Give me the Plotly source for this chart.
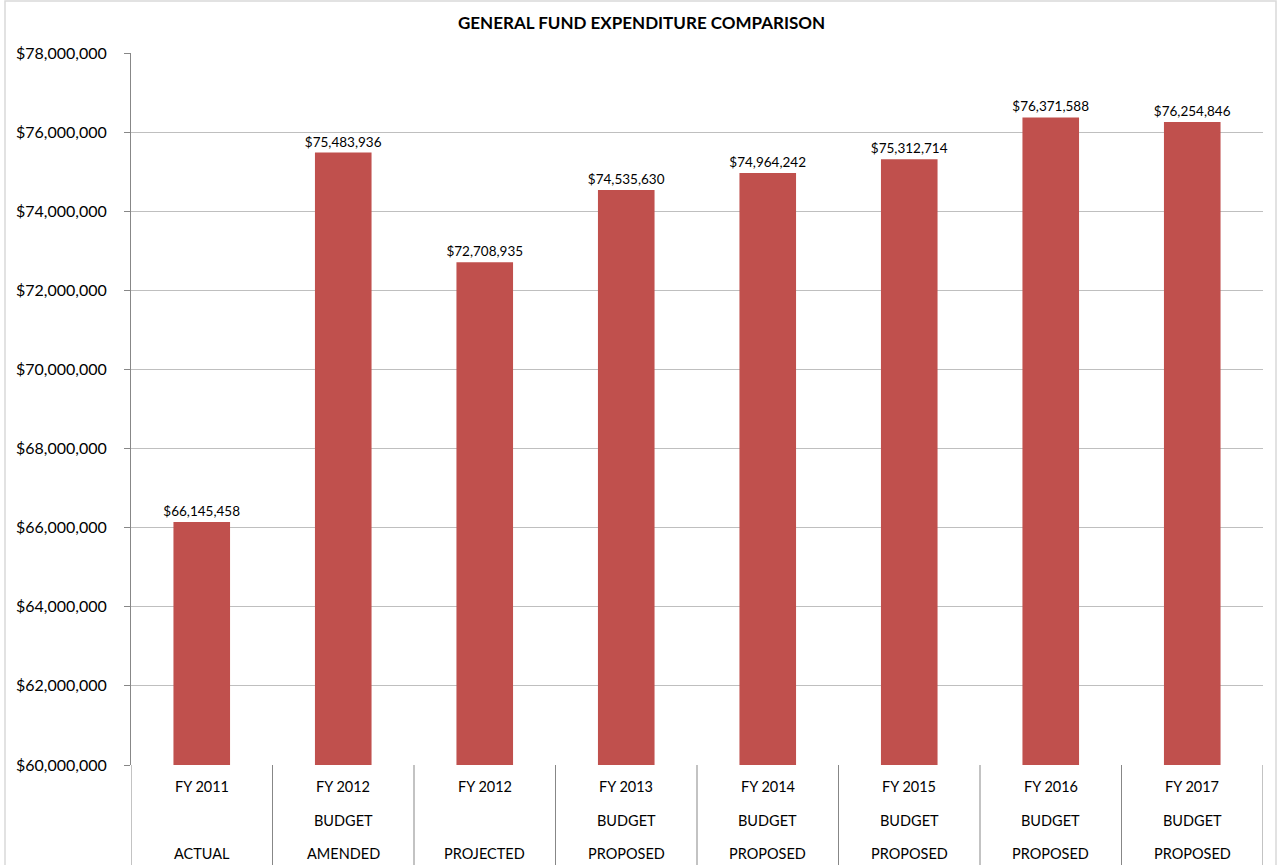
import plotly.graph_objects as go

# Fiscal-year labels (three rows under each bar)
fiscal_years = ["FY 2011", "FY 2012", "FY 2012", "FY 2013", "FY 2014", "FY 2015", "FY 2016", "FY 2017"]
budget_row = ["", "BUDGET", "", "BUDGET", "BUDGET", "BUDGET", "BUDGET", "BUDGET"]
status_row = ["ACTUAL", "AMENDED", "PROJECTED", "PROPOSED", "PROPOSED", "PROPOSED", "PROPOSED", "PROPOSED"]

# General fund expenditures in dollars
expenditures = [66145458, 75483936, 72708935, 74535630, 74964242, 75312714, 76371588, 76254846]

y_ticks = list(range(60000000, 78000001, 2000000))
y_tick_text = ["${:,}".format(v) for v in y_ticks]

FONT = "Lato, 'Open Sans', sans-serif"
BAR_COLOR = "#C0504D"

W, H = 1279, 865
M_L, M_R, M_T, M_B = 131, 16, 53, 100
plot_w = W - M_L - M_R
plot_h = H - M_T - M_B

n = len(expenditures)
xs = list(range(n))

fig = go.Figure()
fig.add_trace(go.Bar(
    x=xs,
    y=expenditures,
    width=0.4,
    marker=dict(color=BAR_COLOR, line=dict(width=0)),
    text=["${:,}".format(v) for v in expenditures],
    textposition="outside",
    constraintext="none",
    textfont=dict(family=FONT, size=13.5, color="#000000"),
    cliponaxis=False,
    hoverinfo="skip",
))

annotations = [dict(
    text="<b>GENERAL FUND EXPENDITURE COMPARISON</b>",
    x=(W / 2 + 2 - M_L) / plot_w, xref="paper",
    y=(H - 23 - M_B) / plot_h, yref="paper",
    xanchor="center", yanchor="middle", showarrow=False,
    font=dict(family=FONT, size=17, color="#000000"),
)]

row_px = [786, 820, 853]
rows = [fiscal_years, budget_row, status_row]
for labels, py in zip(rows, row_px):
    yp = (H - M_B - py) / plot_h
    for i, lab in enumerate(labels):
        if lab:
            annotations.append(dict(
                text=lab, x=i, xref="x", y=yp, yref="paper",
                xanchor="center", yanchor="middle", showarrow=False,
                font=dict(family=FONT, size=14.5, color="#000000"),
            ))

shapes = []
# category separators below the axis
bottom = -(M_B + 5) / plot_h
for k in range(n + 1):
    shapes.append(dict(
        type="line", xref="x", yref="paper",
        x0=k - 0.5, x1=k - 0.5, y0=0, y1=bottom,
        line=dict(color="#878787", width=1),
    ))
# outer chart border
shapes.append(dict(
    type="rect", xref="paper", yref="paper",
    x0=(5 - M_L) / plot_w, x1=(1276 - M_L) / plot_w,
    y0=bottom - 0.05, y1=(H - 1 - M_B) / plot_h,
    line=dict(color="#D9D9D9", width=1.5), fillcolor="rgba(0,0,0,0)",
))

fig.update_layout(
    width=W, height=H,
    margin=dict(l=M_L, r=M_R, t=M_T, b=M_B),
    paper_bgcolor="#FFFFFF",
    plot_bgcolor="#FFFFFF",
    showlegend=False,
    xaxis=dict(
        range=[-0.5, n - 0.5],
        showticklabels=False,
        showgrid=False,
        zeroline=False,
        showline=False,
        ticks="",
        fixedrange=True,
    ),
    yaxis=dict(
        range=[60000000, 78000000],
        tickvals=y_ticks,
        ticktext=y_tick_text,
        tickfont=dict(family=FONT, size=16, color="#000000"),
        showgrid=True,
        gridcolor="#BFBFBF",
        gridwidth=1,
        zeroline=False,
        showline=True,
        linecolor="#878787",
        linewidth=1,
        ticks="outside",
        ticklen=6,
        tickcolor="#878787",
        ticklabelstandoff=14,
        fixedrange=True,
    ),
    annotations=annotations,
    shapes=shapes,
)

fig.write_html("out.html")
